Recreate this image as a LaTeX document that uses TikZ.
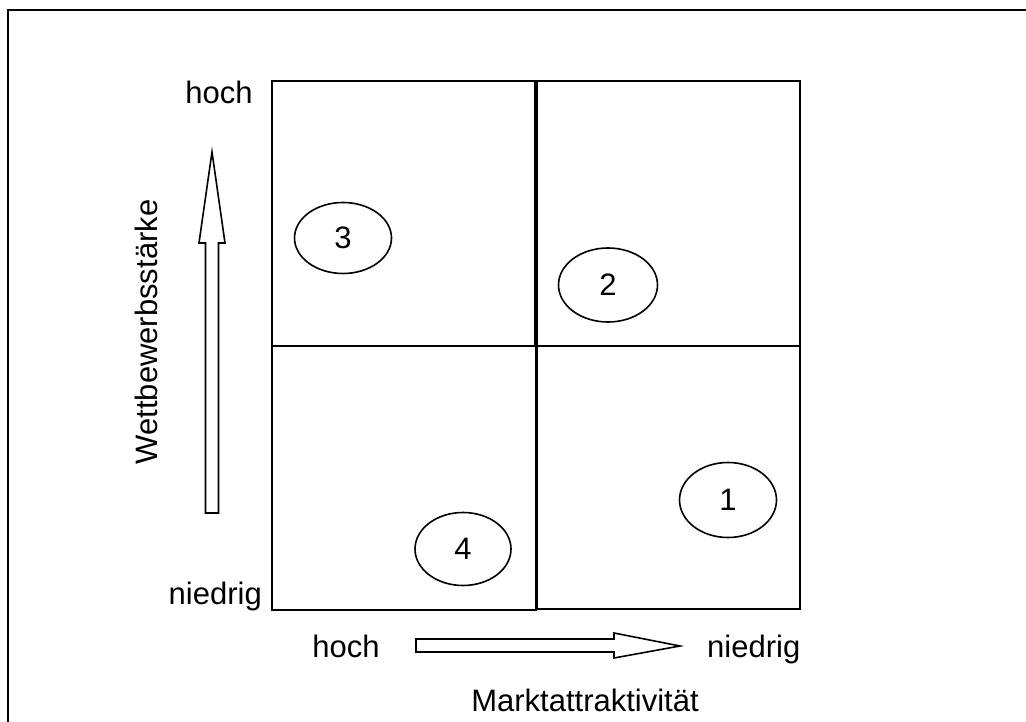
\documentclass[tikz,border=0pt]{standalone}
\usepackage{fontspec}
\setmainfont{Liberation Sans}
\begin{document}
\begin{tikzpicture}[x=1pt,y=-1pt,
  quad/.style={draw=black,line width=1.8pt},
  lbl/.style={inner sep=0pt,font=\fontsize{31}{37}\selectfont},
  hollow/.style={draw=black,line width=1.6pt,fill=white,line join=miter}]
\useasboundingbox (0,0) rectangle (1026,722);
\clip (0,0) rectangle (1026,722);
% outer frame
\draw[line width=2pt] (8,10) rectangle (1040,740);
% quadrants
\draw[quad] (272,81) rectangle (537,346);
\draw[quad] (535,81) rectangle (800,346);
\draw[quad] (272,346) rectangle (536,610);
\draw[quad] (537,346) rectangle (800,609);
% ellipses
\draw[line width=1.6pt] (343,238) ellipse [x radius=48.5, y radius=35.5];
\node[lbl] (n3) at (343,238) {3};
\draw[line width=1.6pt] (608,285) ellipse [x radius=49.5, y radius=37];
\node[lbl] (n2) at (608,285) {2};
\draw[line width=1.6pt] (463,549) ellipse [x radius=48, y radius=36.5];
\node[lbl] (n4) at (463,549) {4};
\draw[line width=1.6pt] (728,500) ellipse [x radius=48.5, y radius=37.5];
\node[lbl] (n1) at (728,500) {1};
% vertical arrow
\draw[hollow] (205.5,513) -- (205.5,243) -- (199,243) -- (212,152) -- (225,243) -- (218.5,243) -- (218.5,513) -- cycle;
% horizontal arrow
\draw[hollow] (416,639) -- (614,639) -- (614,633) -- (680,646) -- (614,658) -- (614,652) -- (416,652) -- cycle;
% labels
\node[lbl,anchor=base] (yh) at (219,104) {hoch};
\node[lbl,anchor=base east] (yn) at (262,604) {niedrig};
\node[lbl,anchor=base] (xh) at (346,657) {hoch};
\node[lbl,anchor=base west] (xn) at (707,657) {niedrig};
\node[lbl,anchor=base] (xt) at (585,711) {Marktattraktivität};
\node[lbl,anchor=base,rotate=90] (yt) at (157,332) {Wettbewerbsstärke};
\end{tikzpicture}
\end{document}
